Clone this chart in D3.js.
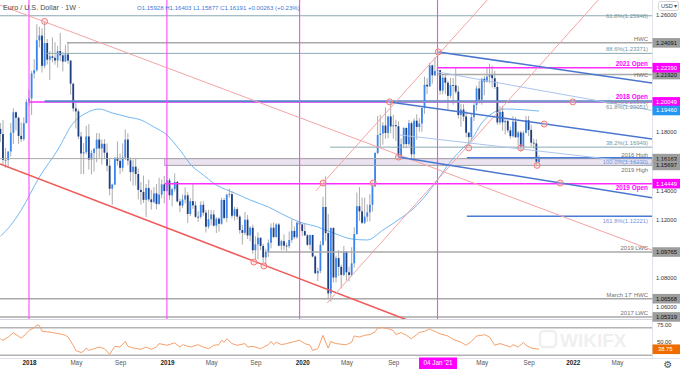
<!DOCTYPE html>
<html>
<head>
<meta charset="utf-8">
<script src="https://cdn.jsdelivr.net/npm/d3@7/dist/d3.min.js"></script>
<style>
  html, body { margin: 0; padding: 0; background: #fff; }
  svg { display: block; font-family: "Liberation Sans", Arial, sans-serif; }
</style>
</head>
<body>
<svg id="chart" width="680" height="369"></svg>
<script>
// weekly EUR/USD bars, first bar is the week of 16 Oct 2017
var firstWeek = '2017-10-16'

var opens = [
  1.1820, 1.1785, 1.1607, 1.1607, 1.1665, 1.1793, 1.1934, 1.1896, 1.1772, 1.1750, 1.1859,
  1.2005, 1.2029, 1.2200, 1.2222, 1.2427, 1.2459, 1.2252, 1.2408, 1.2294, 1.2317, 1.2307, 1.2288, 1.2353, 1.2324, 1.2281, 1.2330, 1.2288, 1.2130, 1.1960, 1.1940, 1.1768, 1.1652, 1.1660, 1.1768, 1.1610, 1.1655, 1.1684, 1.1747, 1.1686, 1.1718, 1.1657, 1.1568, 1.1410, 1.1439, 1.1622, 1.1601, 1.1553, 1.1624, 1.1747, 1.1604, 1.1524, 1.1561, 1.1511, 1.1402, 1.1388, 1.1334, 1.1415, 1.1337, 1.1318, 1.1378, 1.1306, 1.1370, 1.1440,
  1.1394, 1.1468, 1.1365, 1.1407, 1.1457, 1.1323, 1.1295, 1.1336, 1.1365, 1.1237, 1.1325, 1.1296, 1.1218, 1.1217, 1.1300, 1.1246, 1.1150, 1.1201, 1.1234, 1.1157, 1.1205, 1.1170, 1.1333, 1.1210, 1.1369, 1.1373, 1.1225, 1.1270, 1.1219, 1.1127, 1.1108, 1.1198, 1.1090, 1.1143, 1.0989, 1.1029, 1.1074, 1.1018, 1.0940, 1.0979, 1.1040, 1.1143, 1.1080, 1.1165, 1.1020, 1.1051, 1.1020, 1.1017, 1.1059, 1.1121, 1.1078, 1.1178,
  1.1166, 1.1120, 1.1091, 1.1026, 1.1093, 1.0946, 1.0831, 1.0847, 1.1026, 1.1285, 1.1106, 1.0693, 1.1141, 1.0802, 1.0935, 1.0875, 1.0820, 1.0979, 1.0838, 1.0819, 1.0899, 1.1100, 1.1290, 1.1255, 1.1177, 1.1219, 1.1248, 1.1300, 1.1427, 1.1655, 1.1778, 1.1788, 1.1843, 1.1792, 1.1905, 1.1837, 1.1845, 1.1838, 1.1631, 1.1715, 1.1826, 1.1716, 1.1859, 1.1646, 1.1876, 1.1833, 1.1857, 1.1963, 1.2122, 1.2111, 1.2255, 1.2187,
  1.2216, 1.2222, 1.2082, 1.2171, 1.2136, 1.2046, 1.2120, 1.2118, 1.2075, 1.1915, 1.1952, 1.1905, 1.1794, 1.1764, 1.1900, 1.1983, 1.2097, 1.2020, 1.2163, 1.2144, 1.2178, 1.2192, 1.2167, 1.2107, 1.1864, 1.1937, 1.1865, 1.1875, 1.1810, 1.1770, 1.1870, 1.1762, 1.1795, 1.1697, 1.1793, 1.1880, 1.1813, 1.1725, 1.1720, 1.15928
]
var highs = [
  1.1860, 1.1880, 1.1689, 1.1667, 1.1861, 1.1961, 1.1940, 1.1905, 1.1863, 1.1900, 1.2023,
  1.2089, 1.2218, 1.2297, 1.2537, 1.2520, 1.2509, 1.2556, 1.2435, 1.2353, 1.2446, 1.2413, 1.2388, 1.2476, 1.2345, 1.2396, 1.2413, 1.2290, 1.2131, 1.1996, 1.1954, 1.1798, 1.1723, 1.1840, 1.1852, 1.1675, 1.1690, 1.1791, 1.1791, 1.1747, 1.1750, 1.1720, 1.1616, 1.1445, 1.1625, 1.1734, 1.1651, 1.1720, 1.1815, 1.1791, 1.1624, 1.1610, 1.1621, 1.1547, 1.1456, 1.1500, 1.1442, 1.1472, 1.1403, 1.1420, 1.1442, 1.1486, 1.1473, 1.1497,
  1.1570, 1.1482, 1.1419, 1.1514, 1.1463, 1.1341, 1.1371, 1.1420, 1.1386, 1.1345, 1.1448, 1.1325, 1.1255, 1.1324, 1.1324, 1.1265, 1.1265, 1.1264, 1.1263, 1.1215, 1.1215, 1.1348, 1.1347, 1.1377, 1.1412, 1.1393, 1.1286, 1.1283, 1.1229, 1.1163, 1.1250, 1.1230, 1.1153, 1.1164, 1.1085, 1.1110, 1.1076, 1.1032, 1.0999, 1.1063, 1.1172, 1.1179, 1.1175, 1.1176, 1.1061, 1.1097, 1.1040, 1.1117, 1.1200, 1.1152, 1.1187, 1.1239,
  1.1171, 1.1173, 1.1100, 1.1096, 1.1095, 1.0955, 1.0870, 1.1053, 1.1355, 1.1495, 1.1237, 1.1147, 1.1147, 1.0952, 1.0990, 1.0889, 1.1019, 1.0980, 1.0876, 1.1009, 1.1146, 1.1384, 1.1422, 1.1349, 1.1349, 1.1303, 1.1372, 1.1452, 1.1660, 1.1909, 1.1916, 1.1866, 1.1966, 1.1910, 1.2011, 1.1917, 1.1882, 1.1872, 1.1754, 1.1833, 1.1831, 1.1881, 1.1870, 1.1891, 1.1920, 1.1893, 1.1965, 1.2177, 1.2167, 1.2273, 1.2260, 1.2310,
  1.2349, 1.2223, 1.2190, 1.2189, 1.2149, 1.2169, 1.2169, 1.2243, 1.2114, 1.1990, 1.1989, 1.1942, 1.1800, 1.1927, 1.1995, 1.2116, 1.2150, 1.2171, 1.2181, 1.2245, 1.2266, 1.2254, 1.2218, 1.2145, 1.1975, 1.1975, 1.1895, 1.1880, 1.1836, 1.1909, 1.1900, 1.1806, 1.1806, 1.1808, 1.1909, 1.1909, 1.1849, 1.1752, 1.1749, 1.16403
]
var lows = [
  1.1730, 1.1574, 1.1554, 1.1553, 1.1630, 1.1717, 1.1810, 1.1717, 1.1730, 1.1738, 1.1859,
  1.1976, 1.1915, 1.2165, 1.2212, 1.2378, 1.2206, 1.2235, 1.2260, 1.2155, 1.2275, 1.2260, 1.2240, 1.2284, 1.2214, 1.2278, 1.2266, 1.2055, 1.1938, 1.1823, 1.1750, 1.1510, 1.1510, 1.1645, 1.1541, 1.1508, 1.1527, 1.1591, 1.1622, 1.1575, 1.1613, 1.1530, 1.1365, 1.1301, 1.1433, 1.1570, 1.1510, 1.1527, 1.1607, 1.1570, 1.1462, 1.1432, 1.1433, 1.1336, 1.1302, 1.1313, 1.1216, 1.1322, 1.1267, 1.1310, 1.1269, 1.1301, 1.1344, 1.1310,
  1.1393, 1.1334, 1.1289, 1.1390, 1.1317, 1.1249, 1.1277, 1.1310, 1.1176, 1.1223, 1.1272, 1.1210, 1.1183, 1.1205, 1.1226, 1.1110, 1.1136, 1.1160, 1.1151, 1.1107, 1.1116, 1.1164, 1.1202, 1.1181, 1.1350, 1.1207, 1.1192, 1.1201, 1.1101, 1.1027, 1.1093, 1.1066, 1.1051, 1.0965, 1.0927, 1.0927, 1.0990, 1.0904, 1.0879, 1.0943, 1.1002, 1.1072, 1.1073, 1.1015, 1.0989, 1.0990, 1.0981, 1.1002, 1.1040, 1.1066, 1.1066, 1.1125,
  1.1086, 1.1086, 1.1018, 1.0992, 1.0940, 1.0827, 1.0778, 1.0831, 1.1017, 1.1054, 1.0654, 1.0636, 1.0768, 1.0769, 1.0812, 1.0727, 1.0810, 1.0782, 1.0775, 1.0808, 1.0870, 1.1095, 1.1190, 1.1168, 1.1168, 1.1185, 1.1186, 1.1254, 1.1422, 1.1647, 1.1696, 1.1711, 1.1753, 1.1755, 1.1790, 1.1753, 1.1737, 1.1612, 1.1612, 1.1689, 1.1688, 1.1703, 1.1603, 1.1603, 1.1745, 1.1800, 1.1800, 1.1923, 1.2058, 1.2109, 1.2130, 1.2180,
  1.2193, 1.2054, 1.2055, 1.2058, 1.1952, 1.2030, 1.1985, 1.2060, 1.1892, 1.1836, 1.1873, 1.1762, 1.1704, 1.1742, 1.1873, 1.1946, 1.1994, 1.1986, 1.2051, 1.2137, 1.2133, 1.2103, 1.2093, 1.1847, 1.1849, 1.1807, 1.1781, 1.1794, 1.1752, 1.1760, 1.1762, 1.1706, 1.1664, 1.1693, 1.1790, 1.1771, 1.1700, 1.1684, 1.1563, 1.15877
]
var closes = [
  1.1785, 1.1607, 1.1607, 1.1665, 1.1793, 1.1934, 1.1896, 1.1772, 1.1750, 1.1859, 1.2005,
  1.2029, 1.2200, 1.2222, 1.2427, 1.2459, 1.2252, 1.2408, 1.2294, 1.2317, 1.2307, 1.2288, 1.2353, 1.2324, 1.2281, 1.2330, 1.2288, 1.2130, 1.1960, 1.1940, 1.1768, 1.1652, 1.1660, 1.1768, 1.1610, 1.1655, 1.1684, 1.1747, 1.1686, 1.1718, 1.1657, 1.1568, 1.1410, 1.1439, 1.1622, 1.1601, 1.1553, 1.1624, 1.1747, 1.1604, 1.1524, 1.1561, 1.1511, 1.1402, 1.1388, 1.1334, 1.1415, 1.1337, 1.1318, 1.1378, 1.1306, 1.1370, 1.1440, 1.1394,
  1.1468, 1.1365, 1.1407, 1.1457, 1.1323, 1.1295, 1.1336, 1.1365, 1.1237, 1.1325, 1.1296, 1.1218, 1.1217, 1.1300, 1.1246, 1.1150, 1.1201, 1.1234, 1.1157, 1.1205, 1.1170, 1.1333, 1.1210, 1.1369, 1.1373, 1.1225, 1.1270, 1.1219, 1.1127, 1.1108, 1.1198, 1.1090, 1.1143, 1.0989, 1.1029, 1.1074, 1.1018, 1.0940, 1.0979, 1.1040, 1.1143, 1.1080, 1.1165, 1.1020, 1.1051, 1.1020, 1.1017, 1.1059, 1.1121, 1.1078, 1.1178, 1.1166,
  1.1120, 1.1091, 1.1026, 1.1093, 1.0946, 1.0831, 1.0847, 1.1026, 1.1285, 1.1106, 1.0693, 1.1141, 1.0802, 1.0935, 1.0875, 1.0820, 1.0979, 1.0838, 1.0819, 1.0899, 1.1100, 1.1290, 1.1255, 1.1177, 1.1219, 1.1248, 1.1300, 1.1427, 1.1655, 1.1778, 1.1788, 1.1843, 1.1792, 1.1905, 1.1837, 1.1845, 1.1838, 1.1631, 1.1715, 1.1826, 1.1716, 1.1859, 1.1646, 1.1876, 1.1833, 1.1857, 1.1963, 1.2122, 1.2111, 1.2255, 1.2187, 1.2216,
  1.2222, 1.2082, 1.2171, 1.2136, 1.2046, 1.2120, 1.2118, 1.2075, 1.1915, 1.1952, 1.1905, 1.1794, 1.1764, 1.1900, 1.1983, 1.2097, 1.2020, 1.2163, 1.2144, 1.2178, 1.2192, 1.2167, 1.2107, 1.1864, 1.1937, 1.1865, 1.1875, 1.1810, 1.1770, 1.1870, 1.1762, 1.1795, 1.1697, 1.1793, 1.1880, 1.1813, 1.1725, 1.1720, 1.1596, 1.16191
]

// moving average and RSI (week index, value)
var smaWeeks = [0, 4, 8, 15, 22, 28, 33, 38, 43, 49, 54, 59, 64, 69, 74, 77, 83, 90, 96, 103, 109, 115, 122, 128, 135, 141, 147, 154, 159, 168, 172, 177, 181, 185, 190, 194, 207]
var smaValues = [1.1085, 1.1160, 1.1264, 1.1490, 1.1675, 1.1860, 1.1929, 1.1956, 1.1929, 1.1901, 1.1881, 1.1833, 1.1778, 1.1675, 1.1559, 1.1518, 1.1436, 1.1381, 1.1333, 1.1285, 1.1230, 1.1182, 1.1148, 1.1107, 1.1066, 1.1059, 1.1127, 1.1210, 1.1278, 1.1470, 1.1573, 1.1675, 1.1744, 1.1860, 1.1936, 1.1956, 1.1942]

var rsiWeeks = [
  0, 1, 3, 5, 6, 8, 9, 11, 13, 14,
  15, 16, 18, 20, 23, 25, 26, 28, 29, 31,
  32, 33, 34, 36, 38, 40, 42, 44, 46, 48,
  49, 51, 54, 56, 58, 60, 61, 64, 67, 69,
  70, 73, 76, 78, 80, 82, 84, 85, 86, 87,
  89, 91, 94, 95, 97, 100, 103, 104, 105, 106,
  108, 110, 113, 115, 117, 119, 120, 122, 124, 125,
  126, 127, 129, 131, 133, 135, 136, 138, 140, 142,
  144, 145, 147, 149, 151, 152, 154, 156, 158, 160,
  161, 163, 165, 166, 167, 169, 172, 174, 177, 179,
  181, 183, 185, 186, 188, 190, 192, 194, 196, 197,
  199, 201, 202, 204, 207
]
var rsiValues = [
  54, 51.7, 56.5, 62.8, 60, 55, 58, 66, 70, 74,
  73, 65, 64, 63, 61, 59, 56.5, 44.5, 37, 34,
  36, 40.6, 37, 39.6, 42, 39.6, 31.4, 43, 42, 50,
  43, 40.6, 38.7, 42, 38.7, 42, 47, 44.5, 48, 42,
  45.4, 42, 45.4, 42, 39.6, 44.5, 45.4, 51.7, 49, 54,
  47, 44.5, 47, 42, 43, 39.6, 45.4, 50, 45.4, 49,
  45.4, 47, 50, 51.7, 47, 44.5, 37, 39.6, 59, 49,
  40.6, 50, 47, 46, 45.4, 49, 58, 56.5, 59, 60,
  64, 69.5, 70, 68.5, 66, 60, 63, 59, 54, 60,
  63, 64.7, 68.5, 66, 64.7, 61, 58, 53, 49, 44.5,
  50, 58, 59, 60, 56.5, 44.5, 47, 44.5, 42, 45.4,
  42, 48.5, 44.5, 40.6, 38.75
]

// horizontal levels drawn on the chart
var levelNames = ['61.8%(1.25948)', 'HWC', '88.6%(1.23371)', 'HWC', '2021 Open', '2018 Open', '61.8%(1.20091)', '61.8%(1.20051)', '38.2%(1.16949)', '2016 High', '100.0%(1.16230)', '2019 High', '2019 Open', '161.8%(1.12221)', '2019 LWC', "March 17' HWC", '2017 LWC']
var levelPrices = [1.25948, 1.24091, 1.23371, 1.2192, 1.2239, 1.20049, 1.20091, 1.20051, 1.16949, 1.16163, 1.1623, 1.15697, 1.14449, 1.12221, 1.09765, 1.06568, 1.05319]
var levelStarts = ['2017-10-01', '2018-04-13', '2018-02-18', '2021-01-04', '2021-01-04', '2018-01-01', '2018-02-12', '2020-08-28', '2020-03-21', '2017-10-01', '2021-03-24', '2019-01-01', '2019-01-01', '2021-03-24', '2019-10-03', '2017-10-01', '2017-10-01']
var levelKinds = ['fib', 'close', 'fib', 'close', 'open', 'open', 'ray', 'fib', 'fib', 'high', 'fibBlue', 'high', 'open', 'fibBlue', 'close', 'close', 'close']

var zoneTop = 1.16163, zoneBottom = 1.15697, zoneStart = '2019-01-01'

// trendlines: [date, price] end points
var trendFrom = [['2017-10-15', 1.2668], ['2017-10-15', 1.1580], ['2020-03-13', 1.0627], ['2020-02-12', 1.1396], ['2021-01-06', 1.2347], ['2020-08-28', 1.2004], ['2020-09-21', 1.1627], ['2021-01-04', 1.2210], ['2020-09-25', 1.1778]]
var trendTo = [['2022-08-04', 1.0990], ['2020-10-22', 1.0504], ['2022-03-17', 1.2716], ['2021-05-18', 1.2703], ['2022-08-04', 1.2134], ['2022-08-04', 1.1751], ['2022-08-04', 1.1349], ['2022-08-04', 1.1946], ['2022-08-04', 1.1579]]
var trendKinds = ['pink', 'red', 'pink', 'pink', 'blue', 'blue', 'blue', 'light', 'light']

var pivotDates = ['2018-02-12', '2019-08-29', '2019-09-25', '2020-03-02', '2020-07-15', '2020-08-28', '2020-09-21', '2021-01-06', '2021-03-29', '2021-08-16', '2021-09-29', '2021-10-18', '2021-11-30', '2022-01-03']
var pivotPrices = [1.2556, 1.0908, 1.0881, 1.1449, 1.1449, 1.2005, 1.1627, 1.2347, 1.1690, 1.1690, 1.1570, 1.1853, 1.1449, 1.2005]

var yearMarks = ['2018-01-01', '2019-01-07', '2019-12-30', '2021-01-04']

var priceTicks = [1.26, 1.24, 1.22, 1.20, 1.18, 1.16, 1.14, 1.12, 1.10, 1.08, 1.06]
var rsiTicks = [75, 50]
var timeTicks = ['2018-01-01', '2018-05-07', '2018-09-03', '2019-01-07', '2019-05-06', '2019-09-02', '2020-01-06', '2020-05-04', '2020-09-07', '2021-01-04', '2021-05-03', '2021-09-06', '2022-01-03', '2022-05-02']
var timeLabels = ['2018', 'May', 'Sep', '2019', 'May', 'Sep', '2020', 'May', 'Sep', "04 Jan '21", 'May', 'Sep', '2022', 'May']

var title = 'Euro / U.S. Dollar \u00b7 1W \u00b7',
    quote = 'O1.15928 H1.16403 L1.15877 C1.16191 +0.00263 (+0.23%)'

// ---------------------------------------------------------------

var plotRight = 652,
    paneBottom = 319,
    rsiTop = 320,
    rsiBottom = 358

var colors = {
    up: '#3a86f0', down: '#1d3e80', wick: '#a3a3a3',
    magenta: '#ff45ff', sma: '#74b8f2', rsi: '#f5a06a', rsiLast: '#ef6c00',
    grid: '#e0e3eb', text: '#333'
}

var levelStyle = {
    fib: { stroke: '#8aa9b3', width: 1, label: '#6f97a3', weight: 'normal', box: null },
    close: { stroke: '#a8a8a8', width: 1.5, label: '#707070', weight: 'normal', box: '#9d9d9d' },
    high: { stroke: '#a8a8a8', width: 1, label: '#707070', weight: 'normal', box: '#9d9d9d' },
    open: { stroke: '#ff2cff', width: 1.5, label: '#ff00ff', weight: 'bold', box: '#ff00ff' },
    ray: { stroke: '#5a83cf', width: 2, label: '#7d9cab', weight: 'normal', box: null },
    fibBlue: { stroke: '#4a7bd9', width: 1.5, label: '#6f96e0', weight: 'normal', box: null }
}
// baseline offset of each level label from its line
var labelOffset = { 0: 2.2, 3: 2.2, 5: -3, 6: 2.6, 7: 7.6, 10: 6.6, 11: 6.6, 12: 6.6, 13: 6.6 }

var trendStyle = {
    pink: { stroke: '#f6a3a3', width: 1 },
    red: { stroke: '#f05a5a', width: 1.6 },
    blue: { stroke: '#4a76d0', width: 1.5 },
    light: { stroke: '#aac5ee', width: 1 }
}

var parse = d3.timeParse('%Y-%m-%d'),
    start = parse(firstWeek),
    fmt5 = d3.format('.5f'),
    fmt2 = d3.format('.2f')

var x = d3.scaleTime().domain([parse('2017-10-15'), parse('2022-08-04')]).range([0, plotRight]),
    y = d3.scaleLinear().domain([1.06, 1.26]).range([307, 15]),
    r = d3.scaleLinear().domain([30, 70]).range([355.3, 327.7])

function week(i) {
    return d3.timeWeek.offset(start, i)
}

var candles = closes.map(function (c, i) {
    return { date: week(i), o: opens[i], h: highs[i], l: lows[i], c: c }
})

// prices that get a coloured box on the axis
var boxedPrices = levelPrices.filter((p, i) => levelStyle[levelKinds[i]].box).concat([trendTo[7][1]])

var svg = d3.select('#chart')
var defs = svg.append('defs')
defs.append('clipPath').attr('id', 'priceClip')
    .append('rect').attr('x', 0).attr('y', 0).attr('width', plotRight).attr('height', paneBottom)
defs.append('clipPath').attr('id', 'rsiClip')
    .append('rect').attr('x', 0).attr('y', rsiTop).attr('width', plotRight).attr('height', rsiBottom - rsiTop)

svg.append('rect').attr('width', 680).attr('height', 369).attr('fill', '#fff')

// watermark
var mark = svg.append('g').attr('opacity', 0.06)
mark.append('rect').attr('x', 540).attr('y', 331).attr('width', 16).attr('height', 16).attr('rx', 4)
    .attr('fill', 'none').attr('stroke', '#000').attr('stroke-width', 2.5)
mark.append('text').attr('x', 560).attr('y', 347).attr('font-size', 19).attr('font-weight', 'bold')
    .attr('fill', '#000').text('WIKIFX')

var pane = svg.append('g').attr('clip-path', 'url(#priceClip)')

// support zone
pane.append('rect')
    .attr('x', x(parse(zoneStart))).attr('width', plotRight - x(parse(zoneStart)))
    .attr('y', y(zoneTop)).attr('height', y(zoneBottom) - y(zoneTop))
    .attr('fill', 'rgba(176,146,196,0.25)').attr('stroke', '#b9a3c6').attr('stroke-width', 1)

// moving average
pane.append('path')
    .datum(smaWeeks.map(function (w, i) { return [week(w), smaValues[i]] }))
    .attr('fill', 'none').attr('stroke', colors.sma).attr('stroke-width', 1)
    .attr('d', d3.line().curve(d3.curveMonotoneX).x(d => x(d[0])).y(d => y(d[1])))

// candles
var bars = pane.append('g').attr('class', 'candles').selectAll('g').data(candles).join('g')
bars.append('line')
    .attr('x1', d => x(d.date)).attr('x2', d => x(d.date))
    .attr('y1', d => y(d.h)).attr('y2', d => y(d.l))
    .attr('stroke', colors.wick).attr('stroke-width', 0.9)
bars.append('rect')
    .attr('x', d => x(d.date) - 0.9).attr('width', 1.8)
    .attr('y', d => y(Math.max(d.o, d.c)))
    .attr('height', d => Math.max(0.8, Math.abs(y(d.o) - y(d.c))))
    .attr('fill', d => d.c >= d.o ? colors.up : colors.down)

// horizontal levels
levelPrices.forEach(function (p, i) {
    var s = levelStyle[levelKinds[i]]
    pane.append('line')
        .attr('x1', x(parse(levelStarts[i]))).attr('x2', plotRight)
        .attr('y1', y(p)).attr('y2', y(p))
        .attr('stroke', s.stroke).attr('stroke-width', s.width)
})

// year separators
pane.selectAll('line.year').data(yearMarks).join('line')
    .attr('class', 'year')
    .attr('x1', d => x(parse(d))).attr('x2', d => x(parse(d)))
    .attr('y1', 0).attr('y2', paneBottom)
    .attr('stroke', colors.magenta).attr('stroke-width', 1.1)

// trendlines
trendFrom.forEach(function (a, i) {
    var b = trendTo[i], s = trendStyle[trendKinds[i]]
    pane.append('line')
        .attr('x1', x(parse(a[0]))).attr('y1', y(a[1]))
        .attr('x2', x(parse(b[0]))).attr('y2', y(b[1]))
        .attr('stroke', s.stroke).attr('stroke-width', s.width)
})

// pivot markers
pane.selectAll('circle.pivot').data(pivotDates).join('circle')
    .attr('class', 'pivot')
    .attr('cx', d => x(parse(d))).attr('cy', (d, i) => y(pivotPrices[i])).attr('r', 3)
    .attr('fill', 'rgba(255,190,190,0.35)').attr('stroke', '#ee7c7c').attr('stroke-width', 1)

// level labels
levelNames.forEach(function (name, i) {
    var s = levelStyle[levelKinds[i]],
        off = labelOffset[i] !== undefined ? labelOffset[i] : -2
    pane.append('text')
        .attr('x', 648).attr('y', y(levelPrices[i]) + off).attr('text-anchor', 'end')
        .attr('font-size', levelKinds[i] === 'open' ? 6.4 : 5.9)
        .attr('font-weight', s.weight)
        .attr('fill', s.label).text(name)
})

// header
svg.append('text').attr('x', 3).attr('y', 10).attr('font-size', 7.2).attr('fill', '#4a4a4a').text(title)
svg.append('text').attr('x', 137).attr('y', 10).attr('font-size', 6.05).attr('fill', '#3b78d8').text(quote)

// RSI pane
var rsiPane = svg.append('g')
rsiPane.selectAll('line.band').data([70, 30]).join('line')
    .attr('class', 'band')
    .attr('x1', 0).attr('x2', plotRight).attr('y1', d => r(d)).attr('y2', d => r(d))
    .attr('stroke', '#b3b3b3').attr('stroke-width', 1.4)
rsiPane.append('g').attr('clip-path', 'url(#rsiClip)').append('path')
    .datum(rsiWeeks.map(function (w, i) { return [week(w), rsiValues[i]] }))
    .attr('fill', 'none').attr('stroke', colors.rsi).attr('stroke-width', 1)
    .attr('d', d3.line().x(d => x(d[0])).y(d => r(d[1])))

// separators
svg.append('line').attr('x1', plotRight + 0.5).attr('x2', plotRight + 0.5).attr('y1', 0).attr('y2', rsiBottom)
    .attr('stroke', colors.grid)
svg.append('line').attr('x1', 0).attr('x2', 680).attr('y1', paneBottom + 0.5).attr('y2', paneBottom + 0.5)
    .attr('stroke', '#d3d6de')
svg.append('line').attr('x1', 0).attr('x2', 680).attr('y1', rsiBottom + 0.5).attr('y2', rsiBottom + 0.5)
    .attr('stroke', colors.grid)

// price axis, leaving out ticks hidden behind a box
var visibleTicks = priceTicks.filter(t => boxedPrices.every(p => Math.abs(y(p) - y(t)) > 4.8))
var priceAxis = svg.append('g').attr('transform', 'translate(656,0)')
    .call(d3.axisRight(y).tickValues(visibleTicks).tickFormat(fmt5).tickSize(0).tickPadding(0))
priceAxis.select('.domain').remove()
priceAxis.selectAll('text').attr('font-size', 5.7).attr('fill', colors.text).attr('font-family', null)

// price boxes on the axis
function priceBox(p, fill, textFill) {
    var g = svg.append('g').attr('transform', 'translate(0,' + y(p) + ')')
    g.append('rect').attr('x', 652.5).attr('y', -4.8).attr('width', 27.5).attr('height', 9.6).attr('fill', fill)
    g.append('text').attr('x', 656).attr('y', 2).attr('font-size', 5.8).attr('fill', textFill).text(fmt5(p))
}
;['close', 'high', 'open'].forEach(function (kind) {
    levelPrices.forEach(function (p, i) {
        if (levelKinds[i] === kind)
            priceBox(p, levelStyle[kind].box, kind === 'open' ? '#fff' : '#111')
    })
})
priceBox(trendTo[7][1], '#2196f3', '#fff')

// currency switch
svg.append('rect').attr('x', 658.5).attr('y', 1.5).attr('width', 20).attr('height', 9).attr('rx', 2)
    .attr('fill', '#fff').attr('stroke', '#d6d6d6')
svg.append('text').attr('x', 661).attr('y', 8).attr('font-size', 5.6).attr('fill', '#444').text('USD \u25be')

// RSI axis
var rsiAxis = svg.append('g').attr('transform', 'translate(657,0)')
    .call(d3.axisRight(r).tickValues(rsiTicks).tickFormat(fmt2).tickSize(0).tickPadding(0))
rsiAxis.select('.domain').remove()
rsiAxis.selectAll('text').attr('font-size', 5.8).attr('fill', colors.text).attr('font-family', null)

var lastRsi = rsiValues[rsiValues.length - 1]
var rsiBox = svg.append('g').attr('transform', 'translate(0,' + r(lastRsi) + ')')
rsiBox.append('rect').attr('x', 652.5).attr('y', -4.8).attr('width', 27.5).attr('height', 9.6).attr('fill', colors.rsiLast)
rsiBox.append('text').attr('x', 658).attr('y', 2).attr('font-size', 5.8).attr('fill', '#fff').text(fmt2(lastRsi))

// time axis
var timeAxis = svg.append('g').attr('transform', 'translate(0,361)')
    .call(d3.axisBottom(x).tickValues(timeTicks.map(parse)).tickFormat((d, i) => timeLabels[i]).tickSize(0).tickPadding(0))
timeAxis.select('.domain').remove()
timeAxis.selectAll('text')
    .attr('font-size', 6.3).attr('font-family', null)
    .attr('font-weight', (d, i) => /^\d{4}$/.test(timeLabels[i]) ? 'bold' : 'normal')
    .attr('fill', (d, i) => /^\d{4}$/.test(timeLabels[i]) ? '#222' : '#555')
timeAxis.selectAll('.tick').filter((d, i) => timeLabels[i].indexOf("'") > 0)
    .each(function () {
        var t = d3.select(this)
        t.insert('rect', 'text').attr('x', -19).attr('y', -3.5).attr('width', 38).attr('height', 11.5).attr('fill', '#ff00ff')
        t.select('text').attr('fill', '#fff').attr('font-weight', 'normal')
    })

// settings gear
svg.append('text').attr('x', 668).attr('y', 367.5).attr('text-anchor', 'middle')
    .attr('font-family', 'DejaVu Sans').attr('font-size', 10).attr('fill', '#555').text('\u2699')
</script>
</body>
</html>
